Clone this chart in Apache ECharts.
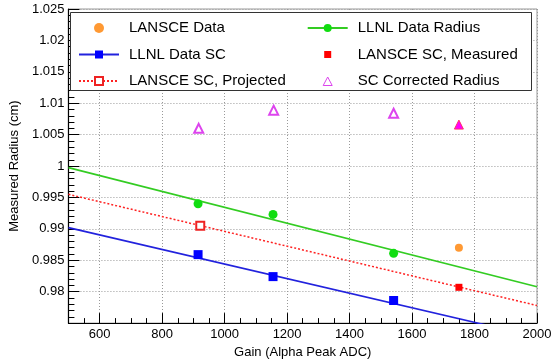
<!DOCTYPE html>
<html>
<head>
<meta charset="utf-8">
<script src="https://cdn.jsdelivr.net/npm/echarts@6/dist/echarts.min.js"></script>
<style>
  html, body { margin: 0; padding: 0; background: #fff; }
  #chart { width: 560px; height: 364px; }
</style>
</head>
<body>
<div id="chart"></div>
<script>
// data
var llnlGain = [915, 1155, 1541];
var llnlRadius = [0.9940, 0.9923, 0.9861];
var llnlSC = [0.9859, 0.9824, 0.9786];
var lansceGain = [1750];
var lansceData = [0.9870];
var lansceMeasured = [0.9807];
var projGain = [922];
var lansceProjected = [0.9905];
var corrGain = [917, 1157, 1541, 1750];
var corrRadius = [1.0060, 1.0089, 1.0084, 1.0066];
// fit lines (end points at the axis range)
var fitGain = [500, 2000];
var fitRadius = [0.99975, 0.9808];
var fitProjected = [0.9955, 0.9778];
var fitSC = [0.9902, 0.9728];

var yTicks = ['1.025', '1.02', '1.015', '1.01', '1.005', '1', '0.995', '0.99', '0.985', '0.98'];
var xTicks = [600, 800, 1000, 1200, 1400, 1600, 1800, 2000];

function pairs(xs, ys) {
    return xs.map(function (x, i) { return [x, ys[i]]; });
}

var font = "'Liberation Sans', Arial, Helvetica, sans-serif";
var chart = echarts.init(document.getElementById('chart'));

var legendStyle = {
    orient: 'vertical', top: 20.5, padding: 0,
    itemWidth: 40, itemHeight: 10, itemGap: 11.5,
    textStyle: { fontSize: 15, color: '#000', lineHeight: 15, padding: [0, 0, 0, 5], fontFamily: font }
};

// square legend icons (the moveTo points keep the box 10x10)
var squareIcon = 'path://M0,0M10,10M1.5,1.5L8.5,1.5L8.5,8.5L1.5,8.5Z';
var triangleIcon = 'path://M0,0M10,10M5,1L9.5,9.5L0.5,9.5Z';

var option = {
    animation: false,
    textStyle: { fontFamily: font },
    grid: {
        left: 64, right: 23, top: 9, bottom: 40,
        show: true, borderColor: '#999', borderWidth: 1
    },
    xAxis: [
        {
            // fine ticks (every 50)
            type: 'value', min: 500, max: 2000, interval: 50,
            axisLine: { lineStyle: { color: '#000', width: 1.2 } },
            axisTick: { inside: true, length: 5, lineStyle: { color: '#000' } },
            axisLabel: { show: false },
            splitLine: { show: false }
        },
        {
            // major ticks, labels, grid
            type: 'value', min: 500, max: 2000, splitNumber: 7, position: 'bottom',
            axisLine: { show: false },
            axisTick: { inside: true, length: 10, lineStyle: { color: '#000' } },
            axisLabel: {
                margin: 5, color: '#000', fontSize: 13, fontFamily: font,
                formatter: function (v) { return xTicks.indexOf(v) >= 0 ? String(v) : ''; }
            },
            splitLine: { show: true, lineStyle: { color: '#999', type: [1, 2], width: 1 } },
            name: 'Gain (Alpha Peak ADC)',
            nameLocation: 'middle', nameGap: 22,
            nameTextStyle: { color: '#000', fontSize: 13, fontFamily: font }
        }
    ],
    yAxis: {
        type: 'value', min: 0.975, max: 1.025, interval: 0.005,
        axisLine: { lineStyle: { color: '#000', width: 1.2 } },
        axisTick: { inside: true, length: 11, lineStyle: { color: '#000' } },
        minorTick: { show: true, splitNumber: 5, length: 6, lineStyle: { color: '#000' } },
        axisLabel: {
            margin: 4, color: '#000', fontSize: 13, fontFamily: font,
            formatter: function (v) {
                var s = String(+v.toFixed(3));
                return yTicks.indexOf(s) >= 0 ? s : '';
            }
        },
        splitLine: { show: true, lineStyle: { color: '#999', type: [1, 2], width: 1 } },
        name: 'Measured Radius (cm)',
        nameLocation: 'middle', nameGap: 38, nameRotate: 90,
        nameTextStyle: { color: '#000', fontSize: 13, fontFamily: font }
    },
    legend: [
        echarts.util.merge({
            left: 78,
            data: ['LANSCE Data', 'LLNL Data SC', 'LANSCE SC, Projected']
        }, legendStyle),
        echarts.util.merge({
            left: 306.7,
            data: [
                'LLNL Data Radius',
                { name: 'LANSCE SC, Measured', icon: squareIcon },
                {
                    name: 'SC Corrected Radius', icon: triangleIcon,
                    itemStyle: { color: '#fff', borderColor: '#dd44ee', borderWidth: 1 }
                }
            ]
        }, legendStyle)
    ],
    graphic: [
        {
            type: 'rect', z: 3,
            shape: { x: 70.5, y: 12.5, width: 461, height: 78 },
            style: { fill: '#fff', stroke: '#333', lineWidth: 1 }
        }
    ],
    series: [
        {
            name: 'LLNL Data Radius', type: 'line', xAxisIndex: 0,
            data: pairs(fitGain, fitRadius),
            showSymbol: false, symbol: 'circle', symbolSize: 9,
            itemStyle: { color: '#11dd11' },
            lineStyle: { color: '#33cc22', width: 1.6 },
            clip: true, z: 2
        },
        {
            name: 'LLNL Data SC', type: 'line', xAxisIndex: 0,
            data: pairs(fitGain, fitSC),
            showSymbol: false, symbol: 'rect', symbolSize: 9,
            itemStyle: { color: '#0000ff' },
            lineStyle: { color: '#2222dd', width: 1.6 },
            clip: true, z: 2
        },
        {
            name: 'LANSCE SC, Projected', type: 'line', xAxisIndex: 0,
            data: pairs(fitGain, fitProjected),
            showSymbol: false, symbol: 'emptyRect', symbolSize: 8,
            itemStyle: { color: '#ee2222', borderWidth: 1 },
            lineStyle: { color: '#ff2222', width: 1.5, type: [2, 2] },
            clip: true, z: 2
        },
        {
            name: 'LLNL Data Radius', type: 'scatter', xAxisIndex: 0,
            data: pairs(llnlGain, llnlRadius),
            symbol: 'circle', symbolSize: 9,
            itemStyle: { color: '#11dd11', opacity: 1 }, z: 3
        },
        {
            name: 'LLNL Data SC', type: 'scatter', xAxisIndex: 0,
            data: pairs(llnlGain, llnlSC),
            symbol: 'rect', symbolSize: 9,
            itemStyle: { color: '#0000ff', opacity: 1 }, z: 3
        },
        {
            name: 'LANSCE SC, Projected', type: 'scatter', xAxisIndex: 0,
            data: pairs(projGain, lansceProjected),
            symbol: 'emptyRect', symbolSize: 8,
            itemStyle: { color: '#ee2222', borderWidth: 1, opacity: 1 }, z: 3
        },
        {
            name: 'LANSCE Data', type: 'scatter', xAxisIndex: 0,
            data: pairs(lansceGain, lansceData),
            symbol: 'circle', symbolSize: 8,
            itemStyle: { color: '#ff9933', opacity: 1 }, z: 3
        },
        {
            name: 'LANSCE SC, Measured', type: 'scatter', xAxisIndex: 0,
            data: pairs(lansceGain, lansceMeasured),
            symbol: 'rect', symbolSize: 7,
            itemStyle: { color: '#ff0000', opacity: 1 }, z: 3
        },
        {
            name: 'SC Corrected Radius', type: 'scatter', xAxisIndex: 0,
            data: pairs(corrGain, corrRadius).map(function (p, i) {
                // last point drawn filled
                return i === 3
                    ? { value: p, symbol: 'triangle', itemStyle: { color: '#ff00ff', borderColor: '#ff3366', borderWidth: 1 } }
                    : { value: p };
            }),
            symbol: 'emptyTriangle', symbolSize: 9,
            itemStyle: { color: '#dd44ee', opacity: 1 }, z: 3
        }
    ]
};

chart.setOption(option);
</script>
</body>
</html>
